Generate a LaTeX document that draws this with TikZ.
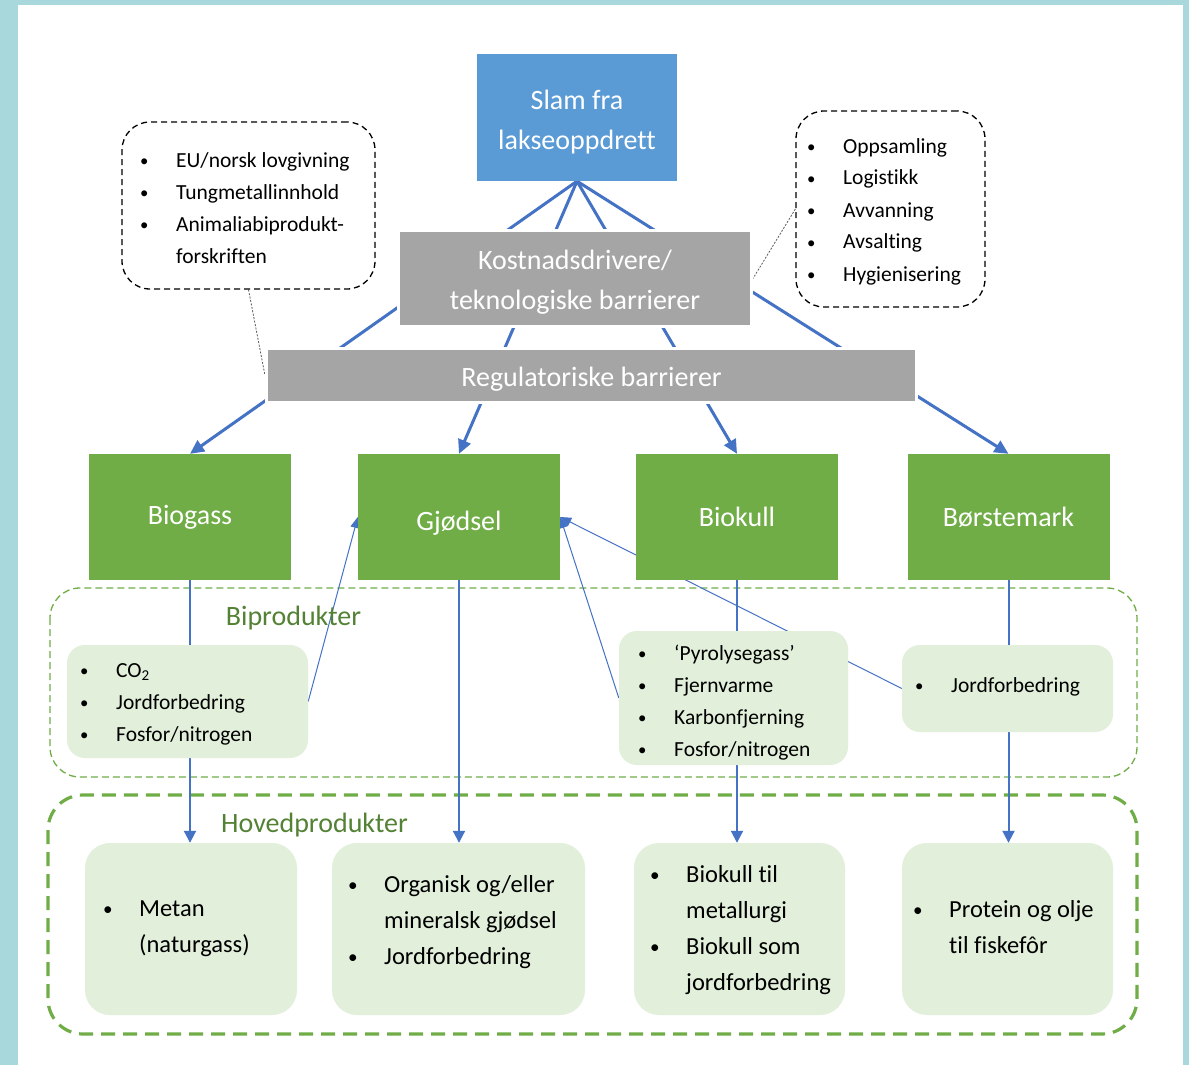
\documentclass[tikz,border=0pt]{standalone}
\usepackage{fontspec}
\setmainfont{Carlito}[Ligatures=NoCommon]
\usetikzlibrary{arrows.meta}

\definecolor{ramme}{RGB}{169,216,220}
\definecolor{slamblaa}{RGB}{91,155,213}
\definecolor{graa}{RGB}{165,165,165}
\definecolor{groenn}{RGB}{112,173,71}
\definecolor{lysgroenn}{RGB}{226,239,218}
\definecolor{moerkgroenn}{RGB}{84,130,53}
\definecolor{pilblaa}{RGB}{68,114,196}

\newcommand{\stor}{\fontsize{28}{40}\selectfont}
\newcommand{\mellom}{\fontsize{24.5}{36}\selectfont}
\newcommand{\liten}{\fontsize{21.5}{32}\selectfont}
% punktliste med hengende innrykk
\newcommand{\pkt}{\raisebox{0.6pt}{\scalebox{0.78}{\textbullet}}}
\newcommand{\liste}[1]{\begin{tabular}[t]{@{}p{36pt}@{}l@{}}#1\end{tabular}}
% tekst i fylte bokser, senket litt
\newcommand{\senk}[2]{\raisebox{-#1}[\height][\depth]{\begin{tabular}{@{}c@{}}#2\end{tabular}}}

\pgfdeclarelayer{bunn}
\pgfdeclarelayer{linjer}
\pgfsetlayers{bunn,linjer,main}

\begin{document}
\begin{tikzpicture}[x=1pt,y=-1pt,
  kilde/.style={fill=slamblaa, text=white, font=\stor, inner sep=0},
  barriere/.style={fill=graa, draw=white, line width=3pt, text=white, font=\stor, inner sep=0},
  prosess/.style={fill=groenn, text=white, font=\stor, inner sep=0, minimum width=202pt, minimum height=126pt},
  biboks/.style={fill=lysgroenn, rounded corners=18pt, inner sep=0},
  produkt/.style={fill=lysgroenn, rounded corners=25pt, inner sep=0, minimum height=172pt},
  merknad/.style={draw, line width=1.3pt, dash pattern=on 6pt off 4pt, rounded corners=28pt, inner sep=0},
  liste/.style={anchor=base west, inner sep=0},
  gruppe/.style={anchor=base, text=moerkgroenn, font=\stor},
  pil/.style={draw=pilblaa, line width=3pt, -{Triangle[length=14pt,width=13pt]}},
  loddpil/.style={draw=pilblaa, line width=2pt, -{Triangle[length=12pt,width=12pt]}},
  tynnpil/.style={draw=pilblaa, line width=1pt, -{Triangle[length=11pt,width=9pt]}},
  stipla/.style={draw=black!65, line width=0.8pt, dash pattern=on 2pt off 1.5pt}]

\begin{pgfonlayer}{bunn}
\fill[ramme] (0,0) rectangle (1189,1065);
\fill[white] (18,5) rectangle (1183,1065);
\draw[groenn, line width=1.3pt, dash pattern=on 7pt off 4pt, rounded corners=30pt] (50,588) rectangle (1137,777);
\draw[groenn, line width=3.2pt, dash pattern=on 14pt off 8pt, rounded corners=35pt] (48,795) rectangle (1137,1034);
\end{pgfonlayer}
\useasboundingbox (0,0) rectangle (1189,1065);

% kilde og barrierer
\node[kilde, minimum width=200pt, minimum height=127pt] (slam) at (577,117.5) {\senk{4pt}{Slam fra\\lakseoppdrett}};
\node[barriere, minimum width=353pt, minimum height=96pt] (kost) at (575,278.5) {\senk{2.5pt}{Kostnadsdrivere/\\teknologiske barrierer}};
\node[barriere, minimum width=650pt, minimum height=54pt] (regul) at (591.5,375.5) {\senk{3pt}{Regulatoriske barrierer}};

% merknader
\node[merknad, minimum width=253pt, minimum height=167pt] (infoA) at (248.5,205.5) {};
\node[merknad, minimum width=189pt, minimum height=196pt] (infoB) at (890.5,209) {};
\node[liste, font=\liten] (tA) at (140,167) {\liste{\pkt & EU/norsk lovgivning\\ \pkt & Tungmetallinnhold\\ \pkt & Animaliabiprodukt-\\ & forskriften}};
\node[liste, font=\liten] (tB) at (807,153) {\liste{\pkt & Oppsamling\\ \pkt & Logistikk\\ \pkt & Avvanning\\ \pkt & Avsalting\\ \pkt & Hygienisering}};

% prosesser
\foreach \n/\x/\t/\s in {biogass/190/Biogass/-1pt, gjodsel/459/Gjødsel/5pt, biokull/737/Biokull/1pt, borste/1008.5/Børstemark/1pt}
  \node[prosess] (\n) at (\x,517) {\senk{\s}{\t}};

% biprodukter
\node[gruppe] (bilbl) at (293.5,625) {Biprodukter};
\node[biboks, minimum width=241pt, minimum height=113pt] (biA) at (187.5,701.5) {};
\node[biboks, minimum width=229pt, minimum height=134pt] (biB) at (733.5,698) {};
\node[biboks, minimum width=211pt, minimum height=87pt] (biC) at (1007.5,688.5) {};
\node[liste, font=\liten] (bA) at (80,677) {\liste{\pkt & CO\textsubscript{2}\\ \pkt & Jordforbedring\\ \pkt & Fosfor/nitrogen}};
\node[liste, font=\liten] (bB) at (638,660) {\liste{\pkt & ‘Pyrolysegass’\\ \pkt & Fjernvarme\\ \pkt & Karbonfjerning\\ \pkt & Fosfor/nitrogen}};
\node[liste, font=\liten] (bC) at (915,692) {\liste{\pkt & Jordforbedring}};

% hovedprodukter
\node[gruppe] (hovlbl) at (314.5,832) {Hovedprodukter};
\foreach \n/\x/\w in {hovA/191/212pt, hovB/458.5/253pt, hovC/739.5/211pt, hovD/1007.5/211pt}
  \node[produkt, minimum width=\w] (\n) at (\x,929) {};
\node[liste, font=\mellom] (pA) at (103,916) {\liste{\pkt & Metan\\ & (naturgass)}};
\node[liste, font=\mellom] (pB) at (348,892) {\liste{\pkt & Organisk og/eller\\ & mineralsk gjødsel\\ \pkt & Jordforbedring}};
\node[liste, font=\mellom] (pC) at (650,882) {\liste{\pkt & Biokull til\\ & metallurgi\\ \pkt & Biokull som\\ & jordforbedring}};
\node[liste, font=\mellom] (pD) at (913,917) {\liste{\pkt & Protein og olje\\ & til fiskefôr}};

% forbindelser
\begin{pgfonlayer}{linjer}
\foreach \n in {biogass,gjodsel,biokull,borste}
  \draw[pil] (slam.south) -- (\n.north);
\foreach \n/\m in {biogass/hovA, gjodsel/hovB, biokull/hovC, borste/hovD}
  \draw[loddpil] (\n.south) -- (\n.south |- \m.north);
\draw[tynnpil] (biA.east) -- (gjodsel.west);
\draw[tynnpil] (biB.west) -- (gjodsel.east);
\draw[tynnpil] (biC.west) -- (gjodsel.east);
\draw[stipla] (infoA.south) -- (regul.west);
\draw[stipla] (infoB.west) -- (kost.east);
\end{pgfonlayer}
\end{tikzpicture}
\end{document}
